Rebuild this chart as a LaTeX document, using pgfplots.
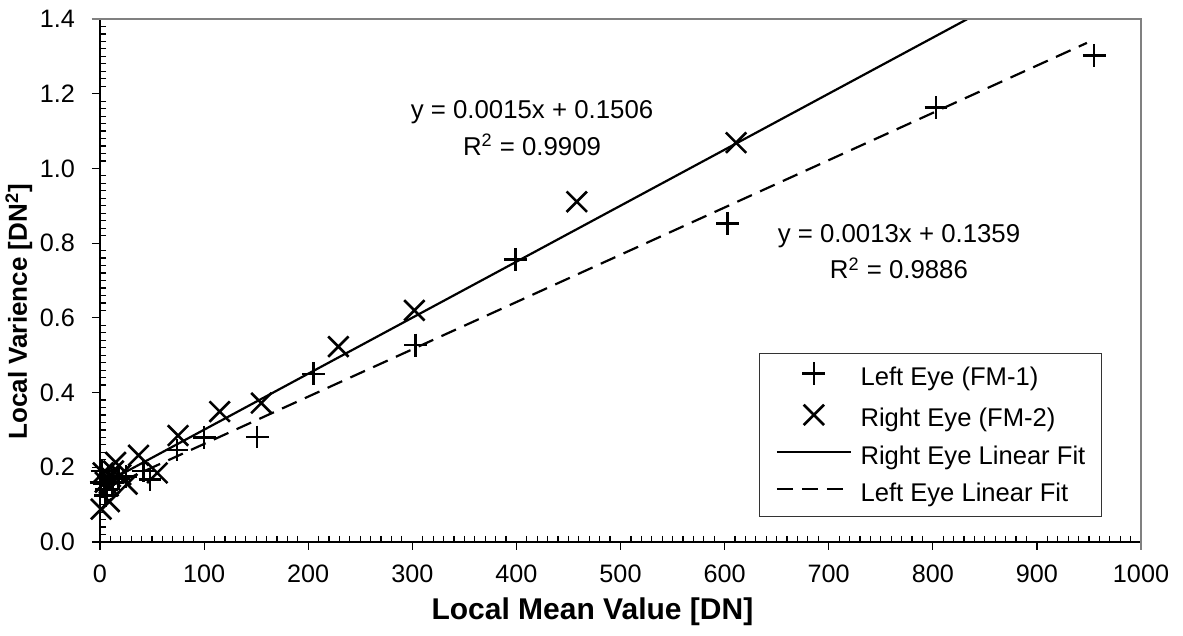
\documentclass[border=0pt]{standalone}
\usepackage{fontspec}
\setmainfont{Liberation Sans}
\usepackage{pgfplots}
\pgfplotsset{compat=1.18}

\pgfplotstableread{
x y
955 1.303
803 1.163
603 0.853
399 0.757
303 0.527
205 0.450
151 0.281
100 0.280
74 0.246
48 0.167
42 0.190
25 0.175
18 0.170
12 0.160
8 0.175
6 0.140
5 0.125
4 0.155
2 0.190
1 0.160
}\lefteye

\pgfplotstableread{
x y
611 1.069
458 0.911
302 0.620
229 0.523
155 0.372
115 0.349
75 0.285
55 0.185
37 0.232
26 0.155
20 0.180
15 0.213
13 0.190
10 0.175
9 0.108
8 0.150
5 0.160
3 0.185
1 0.088
}\righteye

\begin{document}
\begin{tikzpicture}
\path[use as bounding box] (-50pt,-47pt) rectangle (541.5pt,271pt);
\begin{axis}[
  name=ax, at={(0pt,0pt)}, anchor=south west,
  scale only axis, width=520.5pt, height=261.5pt,
  xmin=0, xmax=1000, ymin=0, ymax=1.4,
  axis x line*=bottom, axis y line*=left,
  axis line style={black, line width=0.8pt},
  xtick={0,100,200,300,400,500,600,700,800,900,1000},
  ytick={0,0.2,0.4,0.6,0.8,1.0,1.2,1.4},
  minor x tick num=9, minor y tick num=9,
  tick align=outside, major tick length=4pt, minor tick length=-3pt,
  tick style={black, line width=0.6pt},
  /pgf/number format/assume math mode=true,
  /pgf/number format/1000 sep={},
  ticklabel style={font=\fontsize{12.6}{15}\selectfont},
  yticklabel style={/pgf/number format/.cd, fixed, fixed zerofill, precision=1},
  yticklabel shift=5pt,
  xticklabel shift=4pt,
  xlabel={Local Mean Value [DN]},
  ylabel={Local Varience [DN\textsuperscript{2}]},
  xlabel style={font=\fontsize{15}{18}\selectfont\bfseries, at={(axis description cs:0.473,-0.134)}, anchor=center},
  ylabel style={font=\fontsize{13}{15}\selectfont\bfseries, at={(axis description cs:-0.078,0.44)}, anchor=center},
  clip=true,
  legend style={at={(rel axis cs:0.9625,0.048)}, anchor=south east,
    draw=black!80, line width=0.6pt, fill=white,
    font=\fontsize{12.8}{15}\selectfont,
    nodes={inner sep=0pt, text height=9pt, text depth=3pt},
    inner xsep=8pt, inner ysep=4.5pt, row sep=6.6pt, column sep=4.3pt},
  legend cell align=left,
  legend image code/.code={\draw[mark repeat=2, mark phase=2, #1] plot coordinates {(0pt,3pt) (18.5pt,3pt) (37pt,3pt)};},
]
\addplot[only marks, mark=+, mark size=5.7pt, mark options={line width=1.3pt, black}] table[x=x,y=y] {\lefteye};
\addlegendentry{Left Eye (FM-1)}
\addplot[only marks, mark=x, mark size=7.2pt, mark options={line width=1.3pt, black}] table[x=x,y=y] {\righteye};
\addlegendentry{Right Eye (FM-2)}
\addplot[black, line width=1.1pt] coordinates {(0,0.1506) (833,1.3995)};
\addlegendentry{Right Eye Linear Fit}
\addplot[black, line width=1.1pt, dash pattern=on 8pt off 4.5pt] coordinates {(0,0.1359) (948,1.336)};
\addlegendentry{Left Eye Linear Fit}
\node[align=center, font=\fontsize{12.9}{18.3}\selectfont] at (axis cs:415,1.108) {y = 0.0015x + 0.1506\\R\textsuperscript{2} = 0.9909};
\node[align=center, font=\fontsize{12.9}{18.3}\selectfont] at (axis cs:767.5,0.777) {y = 0.0013x + 0.1359\\R\textsuperscript{2} = 0.9886};
\end{axis}
\draw[black!50, line width=0.8pt] ([xshift=-4pt]ax.north west) -- (ax.north east) -- ([yshift=-4pt]ax.south east);
\end{tikzpicture}
\end{document}
